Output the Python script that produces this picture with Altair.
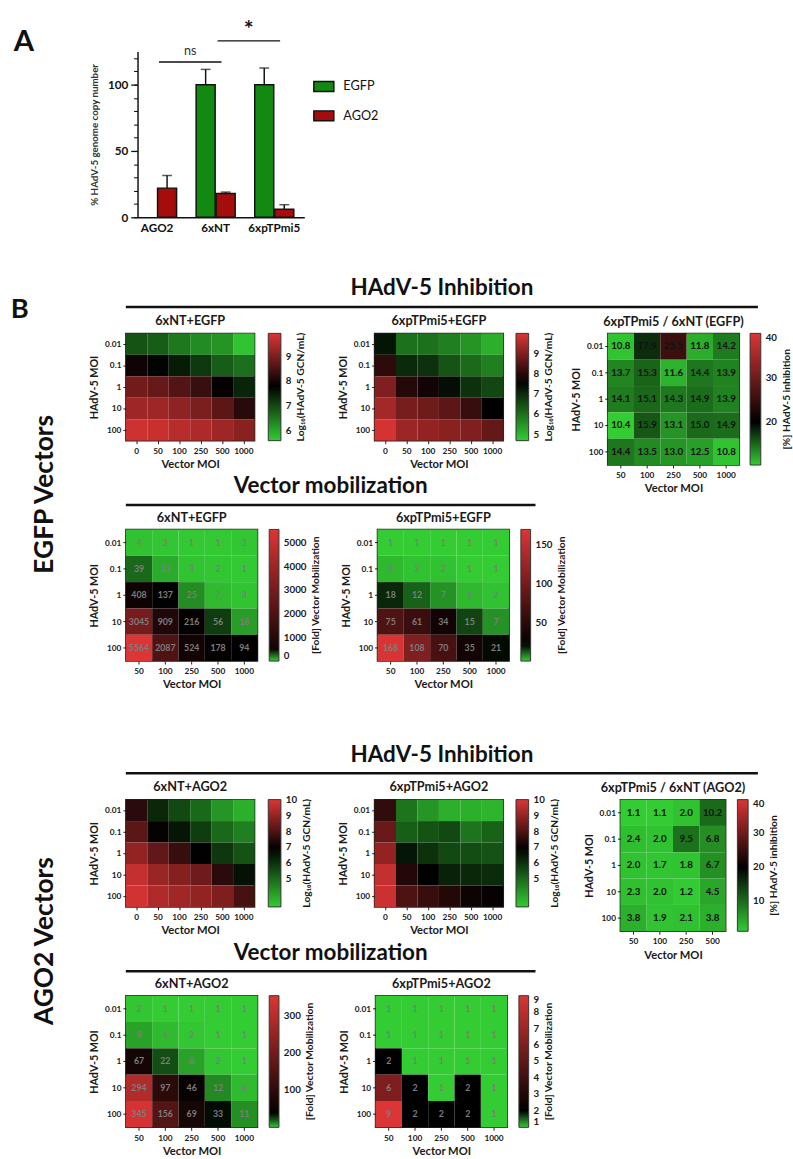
import altair as alt
import pandas as pd

FONT = "Lato"
INK = "#1a1a1a"
HEAT_RANGE = ["#33cc33", "#000000", "#dc3535"]
BAR_GREEN = "#128a12"
BAR_RED = "#a50c0c"
MOB_TEXT = "#7d7d7d"

# ---------------- Panel A: genome copy number ----------------
group_names = ["AGO2", "6xNT", "6xpTPmi5"]
series_names = ["EGFP", "AGO2"]
bar_group = ["AGO2", "6xNT", "6xNT", "6xpTPmi5", "6xpTPmi5"]
bar_series = ["AGO2", "EGFP", "AGO2", "EGFP", "AGO2"]
bar_mean = [22, 100, 18, 100, 6]
bar_sd = [9.5, 11.5, 1, 12.5, 3.5]

sig_from = ["AGO2", "6xNT"]
sig_to = ["6xNT", "6xpTPmi5"]
sig_level = [117, 133]
sig_label = ["ns", "*"]
sig_label_level = [122, 141]

major_ticks = [0, 50, 100]
minor_ticks = list(range(0, 130, 10))

# ---------------- Panel B: heatmaps ----------------
hadv_moi = ["0.01", "0.1", "1", "10", "100"]
vmoi_6 = ["0", "50", "100", "250", "500", "1000"]
vmoi_5 = ["50", "100", "250", "500", "1000"]
vmoi_4 = ["50", "100", "250", "500"]

# log10(HAdV-5 GCN/mL), rows = HAdV-5 MOI, columns = vector MOI
nt_egfp_log = [
    [6.9, 6.8, 6.5, 6.3, 6.2, 5.7],
    [7.95, 7.75, 7.5, 7.2, 6.8, 6.6],
    [8.9, 8.8, 8.6, 8.35, 7.85, 7.4],
    [9.35, 9.35, 9.2, 9.0, 8.7, 8.2],
    [9.8, 9.75, 9.6, 9.5, 9.35, 9.15],
]
pt_egfp_log = [
    [7.3, 6.0, 6.0, 5.8, 5.5, 5.1],
    [8.1, 7.0, 6.9, 6.4, 6.1, 5.8],
    [9.0, 8.0, 7.8, 7.4, 6.9, 6.6],
    [9.4, 8.9, 8.8, 8.6, 8.2, 7.6],
    [9.9, 9.3, 9.2, 9.1, 9.0, 8.7],
]
nt_ago2_log = [
    [7.5, 6.2, 5.6, 5.0, 4.2, 3.7],
    [8.2, 7.0, 6.5, 5.8, 5.0, 4.6],
    [9.0, 8.3, 7.7, 6.9, 5.9, 5.4],
    [9.7, 9.1, 8.8, 8.5, 7.5, 6.6],
    [9.9, 9.4, 9.2, 9.0, 8.7, 7.9],
]
pt_ago2_log = [
    [7.6, 4.8, 4.2, 3.7, 3.7, 3.6],
    [8.4, 5.2, 5.4, 5.6, 4.8, 5.1],
    [9.0, 6.5, 6.0, 5.6, 5.5, 5.4],
    [9.7, 7.4, 6.9, 6.3, 6.2, 6.1],
    [9.8, 8.0, 7.7, 7.4, 7.1, 7.0],
]

# [%] HAdV-5 inhibition, 6xpTPmi5 / 6xNT
ratio_egfp = [
    [10.8, 17.9, 25.5, 11.8, 14.2],
    [13.7, 15.3, 11.6, 14.4, 13.9],
    [14.1, 15.1, 14.3, 14.9, 13.9],
    [10.4, 15.9, 13.1, 15.0, 14.9],
    [14.4, 13.5, 13.0, 12.5, 10.8],
]
ratio_ago2 = [
    [1.1, 1.1, 2.0, 10.2],
    [2.4, 2.0, 9.5, 6.8],
    [2.0, 1.7, 1.8, 6.7],
    [2.3, 2.0, 1.2, 4.5],
    [3.8, 1.9, 2.1, 3.8],
]

# [Fold] vector mobilization
nt_egfp_mob = [
    [4, 2, 1, 1, 2],
    [39, 13, 3, 2, 1],
    [408, 137, 25, 7, 3],
    [3045, 909, 216, 56, 18],
    [5564, 2087, 524, 178, 94],
]
pt_egfp_mob = [
    [1, 1, 1, 1, 1],
    [3, 2, 2, 1, 1],
    [18, 12, 7, 3, 2],
    [75, 61, 34, 15, 7],
    [168, 108, 70, 35, 21],
]
nt_ago2_mob = [
    [2, 1, 1, 1, 1],
    [8, 4, 2, 1, 1],
    [67, 22, 8, 2, 1],
    [294, 97, 46, 12, 4],
    [345, 156, 69, 33, 11],
]
pt_ago2_mob = [
    [1, 1, 1, 1, 1],
    [1, 1, 1, 1, 1],
    [2, 1, 1, 1, 1],
    [6, 2, 1, 2, 1],
    [9, 2, 2, 2, 1],
]

LOG_TITLE = "Log\u2081\u2080(HAdV-5 GCN/mL)"
MOB_TITLE = "[Fold] Vector Mobilization"
INH_TITLE = "[%] HAdV-5 inhibition"
NO_FRAME = alt.ViewBackground(stroke="transparent")


def long_table(values, cols):
    recs = []
    for r, row in zip(hadv_moi, values):
        for c, v in zip(cols, row):
            recs.append({"hadv": r, "vec": c, "v": v})
    return pd.DataFrame(recs)


def own_colors(c):
    return c.resolve_scale(color="independent")


def spacer(width=1):
    return alt.Chart(pd.DataFrame({"t": [""]})).mark_text().encode(text="t:N").properties(
        width=width, height=1, view=NO_FRAME)


def word(text, x, y, size, angle=0, align="left", baseline="alphabetic"):
    return alt.Chart(pd.DataFrame({"t": [text]})).mark_text(
        angle=angle, fontSize=size, fontWeight="bold", color="#111", align=align,
        baseline=baseline).encode(text="t:N", x=alt.value(x), y=alt.value(y))


def heatmap(values, cols, title, cw, ch, domain, ticks, legend_title,
            text_color=None, fmt="d", text_size=9, grad=12, leg_offset=12):
    df = long_table(values, cols)
    w = cw * len(cols)
    h = ch * len(hadv_moi)
    x = alt.X("vec:N", sort=cols, title="Vector MOI",
              axis=alt.Axis(labelAngle=0, labelFontSize=8.5, labelFontWeight="bold",
                            labelColor=INK, labelPadding=3, tickSize=3, tickColor=INK,
                            domain=False, titleFontSize=11.5, titleFontWeight="bold",
                            titleColor=INK, titlePadding=4))
    y = alt.Y("hadv:N", sort=hadv_moi, title="HAdV-5 MOI",
              axis=alt.Axis(labelFontSize=8.5, labelFontWeight="bold", labelColor=INK,
                            labelPadding=2, tickSize=3, tickColor=INK, domain=False,
                            titleFontSize=11, titleFontWeight="bold", titleColor=INK,
                            titlePadding=5))
    color = alt.Color(
        "v:Q",
        scale=alt.Scale(domain=domain, range=HEAT_RANGE, interpolate="rgb"),
        legend=alt.Legend(
            title=None, orient="right", offset=leg_offset, direction="vertical",
            gradientLength=h, gradientThickness=grad, gradientStrokeColor="#333",
            gradientStrokeWidth=1, values=ticks, format="d", labelFontSize=10,
            labelFontWeight="bold", labelColor=INK, labelOffset=5, labelOverlap=False,
        ),
    )
    layers = [alt.Chart(df).mark_rect().encode(x=x, y=y, color=color)]
    if text_color:
        layers.append(
            alt.Chart(df).mark_text(fontWeight="bold", fontSize=text_size, color=text_color)
            .encode(x=x, y=y, text=alt.Text("v:Q", format=fmt))
        )
    # colour-bar title, rotated to read upwards beside the bar labels
    lab_w = max(len(str(t)) for t in ticks) * 5.8
    layers.append(
        alt.Chart(pd.DataFrame({"t": [legend_title]})).mark_text(
            angle=270, fontSize=10.5, fontWeight="bold", color=INK,
            align="center", baseline="middle").encode(
            text="t:N", x=alt.value(w + leg_offset + grad + 5 + lab_w + 10),
            y=alt.value(h / 2))
    )
    return alt.layer(*layers).properties(
        width=w, height=h,
        title=alt.Title(title, fontSize=13, fontWeight="bold", color=INK, offset=5,
                        frame="group", anchor="middle"),
    )


def header(text, span, height=30):
    df = pd.DataFrame({"t": [text]})
    head = alt.Chart(df).mark_text(fontSize=23, fontWeight="bold", color="#111",
                                   baseline="alphabetic").encode(
        text="t:N", x=alt.value(span / 2), y=alt.value(height - 12))
    line = alt.Chart(df).mark_rule(color="#111", strokeWidth=2.5).encode(
        x=alt.value(0), x2=alt.value(span), y=alt.value(height))
    return alt.layer(head, line).properties(width=span, height=height, view=NO_FRAME)


def side_label(text, center, letter=None, width=78, height=300):
    layers = [word(text, 43, center, 27, angle=270, align="center")]
    if letter:
        layers.append(word(letter, 0, 41, 28))
    return alt.layer(*layers).properties(width=width, height=height, view=NO_FRAME)


# ---------------- Panel A chart ----------------
bars_df = pd.DataFrame({"group": bar_group, "series": bar_series,
                        "mean": bar_mean, "sd": bar_sd})
bars_df["top"] = bars_df["mean"] + bars_df["sd"]
sig_df = pd.DataFrame({"from": sig_from, "to": sig_to, "level": sig_level,
                       "label": sig_label, "label_level": sig_label_level})

Y_TITLE = "% HAdV-5 genome copy number"
xscaleA = alt.Scale(domain=group_names, paddingInner=1 / 3, paddingOuter=0.09, align=0)
xA = alt.X("group:N", sort=group_names, scale=xscaleA,
           axis=alt.Axis(title=None, labelAngle=0, labelFontSize=12, labelFontWeight="bold",
                         labelColor="#111", ticks=False, domainColor="#111",
                         domainWidth=1.5, labelPadding=6))
xoffA = alt.XOffset("series:N", sort=series_names,
                    scale=alt.Scale(domain=series_names, paddingInner=0.05))
yscaleA = alt.Scale(domain=[0, 125], nice=False)


def yA(field, axis=None):
    if axis is None:
        return alt.Y(field, scale=yscaleA, axis=None)
    return alt.Y(field, scale=yscaleA, title=Y_TITLE, axis=axis)


major_axis = alt.Axis(values=major_ticks, tickSize=7, tickColor="#111", tickWidth=1.3,
                      domainColor="#111", domainWidth=1.5, labelFontSize=12,
                      labelFontWeight="bold", labelColor="#111", labelPadding=3,
                      titleFontSize=10, titleFontWeight="bold", titleColor="#333",
                      titlePadding=8, grid=False, orient="left")
minor_axis = alt.Axis(values=minor_ticks, tickSize=4, tickColor="#111", tickWidth=1.1,
                      labels=False, domain=False, title=None, grid=False, orient="left")

bars = alt.Chart(bars_df).mark_bar(stroke="#111", strokeWidth=1.5).encode(
    x=xA, xOffset=xoffA,
    y=yA("mean:Q", major_axis),
    color=alt.Color("series:N", scale=alt.Scale(domain=series_names, range=[BAR_GREEN, BAR_RED]),
                    legend=alt.Legend(title=None, orient="none", legendX=180, legendY=25,
                                      symbolType="M-1,-0.5H1V0.5H-1Z", symbolSize=420,
                                      symbolStrokeColor="#111", symbolStrokeWidth=1.5,
                                      labelFontSize=13, labelColor="#111", rowPadding=10,
                                      labelOffset=9)),
)
err_line = alt.Chart(bars_df).mark_rule(color="#111", strokeWidth=1.5).encode(
    x=xA, xOffset=xoffA, y=yA("mean:Q", minor_axis), y2="top:Q")
err_cap = alt.Chart(bars_df).mark_tick(color="#111", thickness=1.5, size=10).encode(
    x=xA, xOffset=xoffA, y=yA("top:Q"))
sig_lines = alt.Chart(sig_df).mark_rule(color="#111", strokeWidth=1.5, xOffset=2,
                                        x2Offset=6).encode(
    x=alt.X("from:N", sort=group_names, scale=xscaleA), x2="to:N", y=yA("level:Q"))
sig_ns = alt.Chart(sig_df.iloc[:1]).mark_text(fontSize=13, color="#333", dx=34,
                                              baseline="alphabetic").encode(
    x=alt.X("from:N", sort=group_names, scale=xscaleA), y=yA("label_level:Q"), text="label:N")
sig_star = alt.Chart(sig_df.iloc[1:]).mark_text(fontSize=24, fontWeight="bold", color="#111",
                                                dx=34, baseline="middle").encode(
    x=alt.X("from:N", sort=group_names, scale=xscaleA), y=yA("label_level:Q"), text="label:N")

panel_a = own_colors(alt.hconcat(
    spacer(),
    own_colors(
        alt.layer(bars, err_line, err_cap, sig_lines, sig_ns, sig_star,
                  word("A", -127, 0, 30))
        .resolve_axis(y="independent")
    ).properties(width=171, height=170, view=NO_FRAME),
    spacing=0,
))

# ---------------- EGFP vectors ----------------
h1 = heatmap(nt_egfp_log, vmoi_6, "6xNT+EGFP", 22, 22, [5.6, 7.8, 9.95], [6, 7, 8, 9],
             LOG_TITLE, grad=13, leg_offset=14)
h2 = heatmap(pt_egfp_log, vmoi_6, "6xpTPmi5+EGFP", 22, 22, [4.7, 7.6, 10.0],
             [5, 6, 7, 8, 9], LOG_TITLE, grad=13, leg_offset=13)
h3 = heatmap(ratio_egfp, vmoi_5, "6xpTPmi5 / 6xNT (EGFP)", 27, 27, [10.4, 20, 40],
             [20, 30, 40], INH_TITLE, text_color="#111", fmt=".1f", text_size=10,
             grad=11, leg_offset=11)
m1 = heatmap(nt_egfp_mob, vmoi_5, "6xNT+EGFP", 27, 27, [0, 80, 5600],
             [0, 1000, 2000, 3000, 4000, 5000], MOB_TITLE, text_color=MOB_TEXT,
             grad=10, leg_offset=12)
m2 = heatmap(pt_egfp_mob, vmoi_5, "6xpTPmi5+EGFP", 27, 27, [1, 22, 170],
             [50, 100, 150], MOB_TITLE, text_color=MOB_TEXT, grad=10, leg_offset=12)

egfp_left = own_colors(alt.vconcat(
    own_colors(alt.hconcat(h1, h2, spacing=29)),
    header("Vector mobilization", 420),
    own_colors(alt.hconcat(m1, m2, spacing=17)),
    spacing=4,
))
egfp_content = own_colors(alt.vconcat(
    header("HAdV-5 Inhibition", 648),
    own_colors(alt.hconcat(egfp_left, own_colors(alt.hconcat(h3)), spacing=1)),
    spacing=5,
))
egfp_block = own_colors(alt.hconcat(side_label("EGFP Vectors", 222, "B"), egfp_content,
                                    spacing=0))

# ---------------- AGO2 vectors ----------------
a1 = heatmap(nt_ago2_log, vmoi_6, "6xNT+AGO2", 22, 22, [3.2, 6.9, 10.05],
             [5, 6, 7, 8, 9, 10], LOG_TITLE, grad=13, leg_offset=14)
a2 = heatmap(pt_ago2_log, vmoi_6, "6xpTPmi5+AGO2", 22, 22, [3.2, 6.9, 10.05],
             [5, 6, 7, 8, 9, 10], LOG_TITLE, grad=13, leg_offset=13)
a3 = heatmap(ratio_ago2, vmoi_4, "6xpTPmi5 / 6xNT (AGO2)", 27, 27, [1.1, 20, 40],
             [10, 20, 30, 40], INH_TITLE, text_color="#111", fmt=".1f", text_size=10,
             grad=11, leg_offset=12)
n1 = heatmap(nt_ago2_mob, vmoi_5, "6xNT+AGO2", 27, 27, [1, 35, 355], [100, 200, 300],
             MOB_TITLE, text_color=MOB_TEXT, grad=10, leg_offset=12)
n2 = heatmap(pt_ago2_mob, vmoi_5, "6xpTPmi5+AGO2", 27, 27, [1, 2, 9],
             [1, 2, 3, 4, 5, 6, 7, 8, 9], MOB_TITLE, text_color=MOB_TEXT, grad=10,
             leg_offset=12)

ago2_left = own_colors(alt.vconcat(
    own_colors(alt.hconcat(a1, a2, spacing=24)),
    header("Vector mobilization", 420),
    own_colors(alt.hconcat(n1, n2, spacing=21)),
    spacing=4,
))
ago2_content = own_colors(alt.vconcat(
    header("HAdV-5 Inhibition", 648),
    own_colors(alt.hconcat(ago2_left, own_colors(alt.hconcat(a3)), spacing=22)),
    spacing=5,
))
ago2_block = own_colors(alt.hconcat(side_label("AGO2 Vectors", 202), ago2_content, spacing=0))

chart = (
    own_colors(alt.vconcat(
        own_colors(alt.vconcat(panel_a, egfp_block, spacing=43)),
        ago2_block,
        spacing=53,
    ))
    .properties(padding={"left": 10, "top": 3, "right": 0, "bottom": 0})
    .configure(font=FONT)
    .configure_view(stroke="#1e2a1e", strokeWidth=1.5)
)

chart.save("out.html", embed_options={"renderer": "svg", "actions": False})
